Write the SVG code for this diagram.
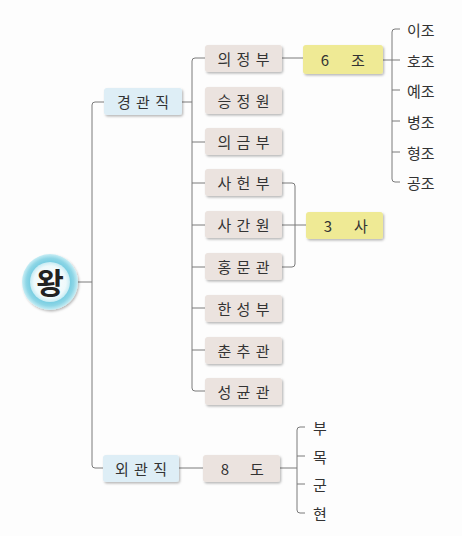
<svg xmlns="http://www.w3.org/2000/svg" width="462" height="536" viewBox="0 0 462 536">
<defs>
<filter id="sh" x="-10%" y="-20%" width="130%" height="160%">
<feDropShadow dx="1.2" dy="1.5" stdDeviation="0.9" flood-color="#000" flood-opacity="0.28"/>
</filter>
<radialGradient id="kg" cx="0.5" cy="0.5" r="0.5">
<stop offset="0.55" stop-color="#5fc3dc"/>
<stop offset="0.85" stop-color="#8ed6e6"/>
<stop offset="1" stop-color="#c9eef5"/>
</radialGradient>
<radialGradient id="kin" cx="0.5" cy="0.5" r="0.5">
<stop offset="0" stop-color="#ffffff"/>
<stop offset="0.8" stop-color="#eef9fb"/>
<stop offset="1" stop-color="#c6ebf3"/>
</radialGradient>
</defs>
<style>
text{font-family:"Noto Sans CJK KR","Noto Sans",sans-serif;fill:#333;font-size:15px;dominant-baseline:central}
.box{fill:#ebe3df;filter:url(#sh)}
.blue{fill:#deeef6;filter:url(#sh)}
.yel{fill:#efea95;filter:url(#sh)}
.c{text-anchor:middle}
.sp{letter-spacing:1px}
#connectors path{fill:none;stroke:#7a7a7a;stroke-width:1}
</style>
<rect width="462" height="536" fill="#fdfdfd"/>
<g id="connectors">
<path d="M77 282 H92"/>
<path d="M104 102 H95 Q92 102 92 105 V465 Q92 468 95 468 H103"/>
<path d="M182 102 H192"/>
<path d="M205 58 H195 Q192 58 192 61 V388 Q192 391 195 391 H205"/>
<path d="M192 142 H205 M192 183 H205 M192 225 H205 M192 267 H205 M192 308 H205 M192 350 H205"/>
<path d="M282 58 H303"/>
<path d="M383 60 H400"/>
<path d="M400 29 H395 Q392 29 392 32 V179 Q392 182 395 182 H400"/>
<path d="M392 90 H400 M392 121 H400 M392 152 H400"/>
<path d="M282 183 H292 Q295 183 295 186 V264 Q295 267 292 267 H282"/>
<path d="M282 225 H306"/>
<path d="M179 468 H203"/>
<path d="M280 468 H297"/>
<path d="M305 427 H300 Q297 427 297 430 V510 Q297 513 300 513 H305"/>
<path d="M297 456 H305 M297 484 H305"/>
</g>
<g id="king">
<circle cx="50" cy="282" r="28" fill="url(#kg)" filter="url(#sh)"/>
<circle cx="50" cy="282" r="20" fill="url(#kin)"/>
<text x="50" y="281" class="c" style="font-size:30px;font-weight:bold;fill:#222">왕</text>
</g>
<g id="gyeonggwanjik">
<rect x="104" y="88" width="78" height="27" rx="3" class="blue"/>
<text x="143.5" y="101" class="c sp">경 관 직</text>
</g>
<g id="oegwanjik">
<rect x="103" y="455" width="76" height="27" rx="3" class="blue"/>
<text x="141.5" y="468" class="c sp">외 관 직</text>
</g>
<g id="uijeongbu"><rect x="205" y="45" width="77" height="27" rx="3" class="box"/><text x="244" y="58" class="c sp">의 정 부</text></g>
<g id="seungjeongwon"><rect x="205" y="87" width="77" height="27" rx="3" class="box"/><text x="244" y="100" class="c sp">승 정 원</text></g>
<g id="uigeumbu"><rect x="205" y="128" width="77" height="27" rx="3" class="box"/><text x="244" y="141" class="c sp">의 금 부</text></g>
<g id="saheonbu"><rect x="205" y="169" width="77" height="27" rx="3" class="box"/><text x="244" y="182" class="c sp">사 헌 부</text></g>
<g id="saganwon"><rect x="205" y="211" width="77" height="27" rx="3" class="box"/><text x="244" y="224" class="c sp">사 간 원</text></g>
<g id="hongmungwan"><rect x="205" y="253" width="77" height="27" rx="3" class="box"/><text x="244" y="266" class="c sp">홍 문 관</text></g>
<g id="hanseongbu"><rect x="205" y="295" width="77" height="27" rx="3" class="box"/><text x="244" y="308" class="c sp">한 성 부</text></g>
<g id="chunchugwan"><rect x="205" y="337" width="77" height="27" rx="3" class="box"/><text x="244" y="350" class="c sp">춘 추 관</text></g>
<g id="seonggyungwan"><rect x="205" y="378" width="77" height="27" rx="3" class="box"/><text x="244" y="391" class="c sp">성 균 관</text></g>
<g id="paldo"><rect x="203" y="455" width="77" height="27" rx="3" class="box"/><text x="225" y="468" class="c">8</text><text x="257" y="468" class="c">도</text></g>
<g id="yukjo"><rect x="303" y="45" width="80" height="29" rx="3" class="yel"/><text x="325" y="59" class="c">6</text><text x="358" y="59" class="c">조</text></g>
<g id="samsa"><rect x="306" y="212" width="77" height="27" rx="3" class="yel"/><text x="328" y="225" class="c">3</text><text x="361" y="225" class="c">사</text></g>
<g id="jo-labels">
<text x="407" y="29">이조</text>
<text x="407" y="60">호조</text>
<text x="407" y="90">예조</text>
<text x="407" y="121">병조</text>
<text x="407" y="152">형조</text>
<text x="407" y="182">공조</text>
</g>
<g id="do-labels">
<text x="313" y="427">부</text>
<text x="313" y="456">목</text>
<text x="313" y="484">군</text>
<text x="313" y="513">현</text>
</g>
</svg>
